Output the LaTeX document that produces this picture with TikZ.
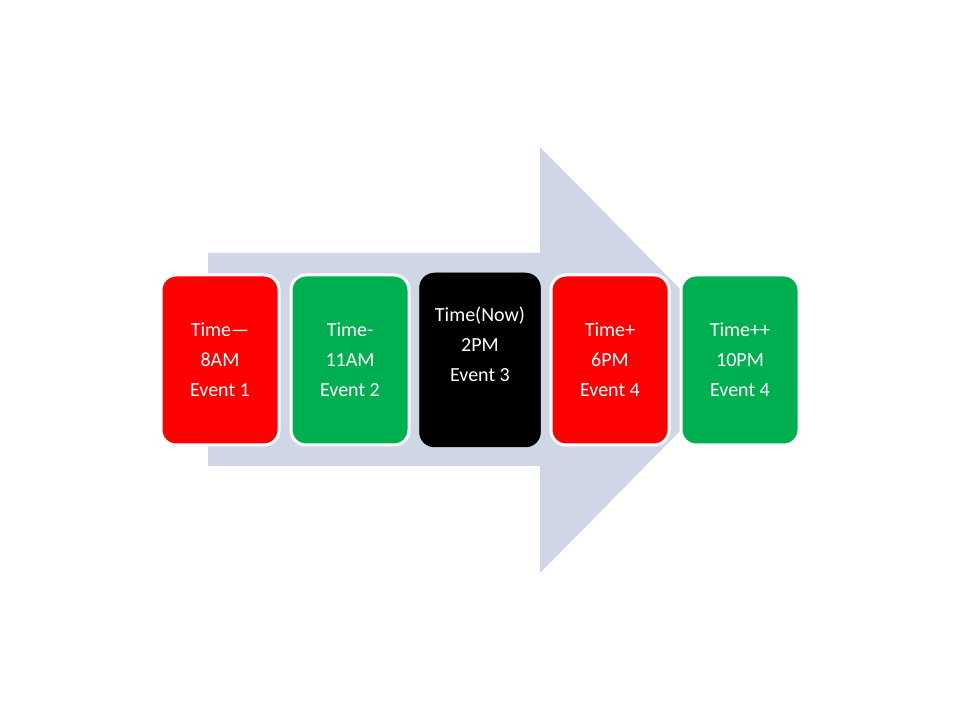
\documentclass[tikz,border=0pt]{standalone}
\usepackage{fontspec}
\setmainfont{Carlito}
\usepackage{xcolor}
\definecolor{arrowgray}{RGB}{207,214,230}
\definecolor{eventred}{RGB}{255,0,0}
\definecolor{eventgreen}{RGB}{0,176,80}
\begin{document}
\begin{tikzpicture}[x=1pt, y=1pt, node distance=130pt,
    eventbox/.style={draw=white, line width=3pt, text=white, rounded corners=15pt, minimum width=118pt, minimum height=170pt, align=center, font=\fontsize{20}{30}\selectfont}]
      \useasboundingbox (0,0) rectangle (960,720);
      % big background arrow
      \fill[arrowgray] (208,467) -- (540,467) -- (540,573) -- (750,360) -- (540,147) -- (540,254) -- (208,254) -- cycle;

      \node[eventbox, fill=eventred] (past2) at (220,360) {Time—\\8AM\\Event 1};
      
      \node[eventbox, fill=eventgreen, right of=past2] (past1) {Time-\\11AM\\Event 2};
      
      \node[eventbox, fill=black, draw=black, line width=0.5pt, minimum width=121pt, minimum height=174pt, right of=past1] (now) {\raisebox{14pt}[\height][\depth]{\begin{tabular}{@{}c@{}}Time(Now)\\2PM\\Event 3\end{tabular}}};
      
      \node[eventbox, fill=eventred, right of=now] (next1) {Time+\\6PM\\Event 4};
      
      \node[eventbox, fill=eventgreen, right of=next1] (next2) {Time++\\10PM\\Event 4};
    \end{tikzpicture}
\end{document}
